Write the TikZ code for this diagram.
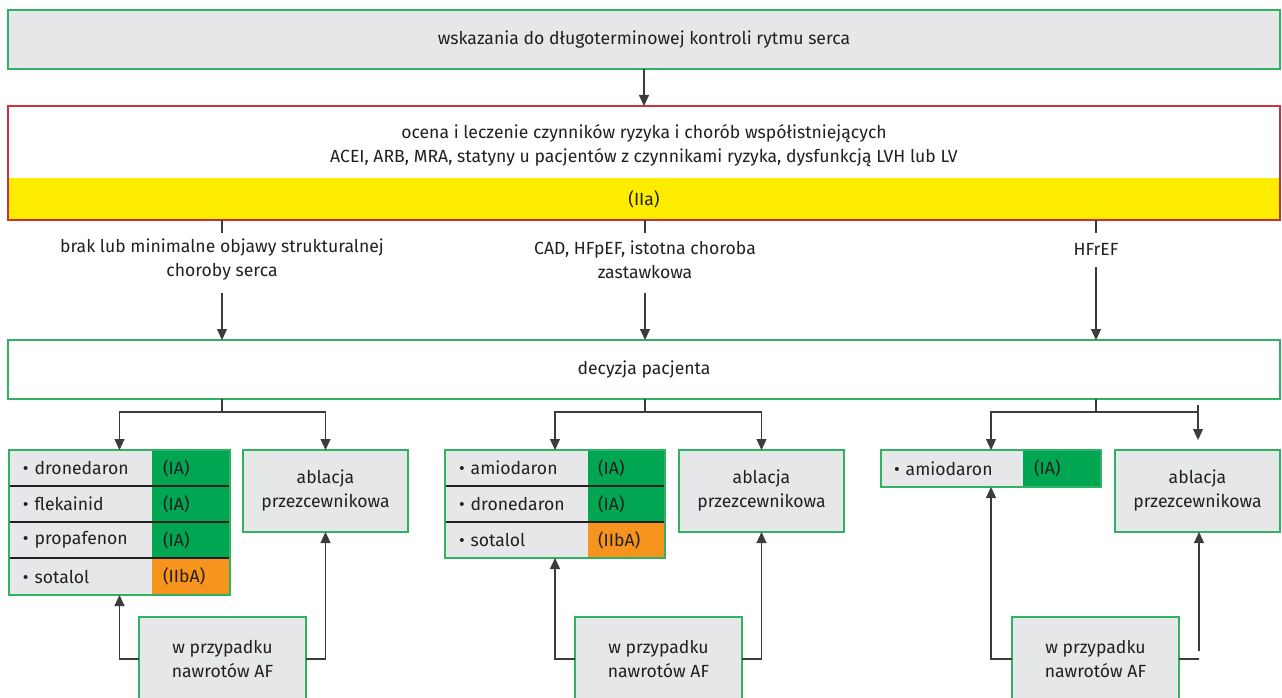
\documentclass[tikz,border=0pt]{standalone}
\usepackage{fontspec}
\setmainfont{Fira Sans}
\usetikzlibrary{arrows.meta}
\definecolor{gborder}{RGB}{47,178,98}
\definecolor{gfill}{RGB}{0,166,81}
\definecolor{ofill}{RGB}{247,148,29}
\definecolor{yfill}{RGB}{255,237,0}
\definecolor{grayfill}{RGB}{230,231,232}
\definecolor{rborder}{RGB}{200,50,60}
\definecolor{txt}{RGB}{35,31,32}
\definecolor{conn}{RGB}{60,60,62}
\tikzset{
  base/.style={inner sep=0pt, outer sep=0pt, text=txt, align=center},
  graybox/.style={base, draw=gborder, line width=1.4pt, fill=grayfill},
  whitebox/.style={base, draw=gborder, line width=1.4pt, fill=white},
  cellname/.style={base, fill=grayfill, anchor=north west, minimum height=36pt, text width=#1, align=left},
  cellgrade/.style={base, anchor=north west, minimum height=36pt, align=left},
  frame/.style={base, draw=gborder, line width=1.4pt, anchor=north west},
  lbl/.style={base, align=center},
  conline/.style={draw=conn, line width=1.1pt},
  arr/.style={conline, -{Triangle[width=10pt,length=11pt]}},
}
\begin{document}
\begin{tikzpicture}[x=1pt,y=-1pt,font=\fontsize{17.6}{24}\selectfont]
\useasboundingbox (0,0) rectangle (1282,698);

% top box
\node[graybox, anchor=north west, minimum width=1272pt, minimum height=59pt] (top) at (8,10)
  {wskazania do długoterminowej kontroli rytmu serca};

% risk box
\node[base, fill=yfill, anchor=north west, minimum width=1272pt, minimum height=42pt] (iia) at (8,178) {(IIa)};
\node[base, draw=rborder, line width=1.4pt, anchor=north west, minimum width=1272pt, minimum height=114pt] (risk) at (8,106) {};
\node[lbl] (risktxt) at (644,146) {ocena i leczenie czynników ryzyka i chorób współistniejących\\
  ACEI, ARB, MRA, statyny u pacjentów z czynnikami ryzyka, dysfunkcją LVH lub LV};
\draw[arr] (top.south) -- (risk.north);

% labels
\node[lbl] (lab1) at (222,260) {brak lub minimalne objawy strukturalnej\\choroby serca};
\node[lbl] (lab2) at (645,260) {CAD, HFpEF, istotna choroba\\zastawkowa};
\node[lbl] (lab3) at (1096,249) {HFrEF};
\coordinate (t1) at (222,233);
\coordinate (t2) at (645,233);
\coordinate (t3) at (1096,233);
\draw[conline] (risk.south -| t1) -- (t1);
\draw[conline] (risk.south -| t2) -- (t2);
\draw[conline] (risk.south -| t3) -- (t3);

% decision box
\node[whitebox, anchor=north west, minimum width=1272pt, minimum height=59pt] (dec) at (8,340) {decyzja pacjenta};
\coordinate (s1) at (222,293);
\coordinate (s2) at (645,293);
\coordinate (s3) at (1096,267);
\draw[arr] (s1) -- (dec.north -| s1);
\draw[arr] (s2) -- (dec.north -| s2);
\draw[arr] (s3) -- (dec.north -| s3);

% ---------- left group ----------
\node[cellname=143pt] (n11) at (9,450) {\hspace{14pt}•\hspace{6pt}dronedaron};
\node[cellname=143pt] (n12) at (9,486) {\hspace{14pt}•\hspace{6pt}flekainid};
\node[cellname=143pt] (n13) at (9,522) {\hspace{14pt}•\hspace{6pt}propafenon};
\node[cellname=143pt, minimum height=37pt] (n14) at (9,558) {\hspace{14pt}•\hspace{6pt}sotalol};
\node[cellgrade, fill=gfill, minimum width=78pt, text width=78pt] (g11) at (152,450) {\hspace{11pt}(IA)};
\node[cellgrade, fill=gfill, minimum width=78pt, text width=78pt] (g12) at (152,486) {\hspace{11pt}(IA)};
\node[cellgrade, fill=gfill, minimum width=78pt, text width=78pt] (g13) at (152,522) {\hspace{11pt}(IA)};
\node[cellgrade, fill=ofill, minimum width=78pt, text width=78pt, minimum height=37pt] (g14) at (152,558) {\hspace{11pt}(IIbA)};
\draw[draw=txt, line width=1.1pt] (n12.north west) -- (g12.north east);
\draw[draw=txt, line width=1.1pt] (n13.north west) -- (g13.north east);
\draw[draw=txt, line width=1.1pt] (n14.north west) -- (g14.north east);
\node[frame, minimum width=221pt, minimum height=145pt] (L1) at (9,450) {};
\node[graybox, anchor=north west, minimum width=165pt, minimum height=82pt] (A1) at (243,450) {ablacja\\przezcewnikowa};
\node[graybox, anchor=north west, minimum width=167pt, minimum height=84pt] (B1) at (139,617) {w przypadku\\nawrotów AF};
\coordinate (j1) at (222,412);
\draw[conline] (dec.south -| j1) -- (j1);
\draw[arr] (j1) -| (L1.north);
\draw[arr] (j1) -| (A1.north);
\draw[arr] (B1.west) -| (L1.south);
\draw[arr] (B1.east) -| (A1.south);

% ---------- middle group ----------
\node[cellname=143pt] (n21) at (445,450) {\hspace{14pt}•\hspace{6pt}amiodaron};
\node[cellname=143pt] (n22) at (445,486) {\hspace{14pt}•\hspace{6pt}dronedaron};
\node[cellname=143pt] (n23) at (445,522) {\hspace{14pt}•\hspace{6pt}sotalol};
\node[cellgrade, fill=gfill, minimum width=77pt, text width=77pt] (g21) at (588,450) {\hspace{10pt}(IA)};
\node[cellgrade, fill=gfill, minimum width=77pt, text width=77pt] (g22) at (588,486) {\hspace{10pt}(IA)};
\node[cellgrade, fill=ofill, minimum width=77pt, text width=77pt] (g23) at (588,522) {\hspace{10pt}(IIbA)};
\draw[draw=txt, line width=1.1pt] (n22.north west) -- (g22.north east);
\draw[draw=txt, line width=1.1pt] (n23.north west) -- (g23.north east);
\node[frame, minimum width=220pt, minimum height=108pt] (L2) at (445,450) {};
\node[graybox, anchor=north west, minimum width=165pt, minimum height=82pt] (A2) at (679,450) {ablacja\\przezcewnikowa};
\node[graybox, anchor=north west, minimum width=167pt, minimum height=84pt] (B2) at (575,617) {w przypadku\\nawrotów AF};
\coordinate (j2) at (645,412);
\draw[conline] (dec.south -| j2) -- (j2);
\draw[arr] (j2) -| (L2.north);
\draw[arr] (j2) -| (A2.north);
\draw[arr] (B2.west) -| (L2.south);
\draw[arr] (B2.east) -| (A2.south);

% ---------- right group ----------
\node[cellname=142pt, minimum height=37pt] (n31) at (881,450) {\hspace{13pt}•\hspace{6pt}amiodaron};
\node[cellgrade, fill=gfill, minimum width=78pt, text width=78pt, minimum height=37pt] (g31) at (1023,450) {\hspace{11pt}(IA)};
\node[frame, minimum width=220pt, minimum height=37pt] (L3) at (881,450) {};
\node[graybox, anchor=north west, minimum width=165pt, minimum height=82pt] (A3) at (1115,450) {ablacja\\przezcewnikowa};
\node[graybox, anchor=north west, minimum width=167pt, minimum height=84pt] (B3) at (1012,617) {w przypadku\\nawrotów AF};
\coordinate (j3) at (1096,412);
\coordinate (r3top) at (1198,405);
\coordinate (r3tip) at (1198,440);
\coordinate (r3bot) at (1199,651);
\coordinate (r3end) at (1199,659);
\draw[conline] (dec.south -| j3) -- (j3);
\draw[arr] (j3) -| (L3.north);
\draw[conline] (j3) -- (j3 -| r3top);
\draw[arr] (r3top) -- (r3tip);
\draw[arr] (B3.west) -| (L3.south);
\draw[conline] (B3.east) -- (r3end);
\draw[arr] (r3bot) -- (A3.south -| r3bot);
\end{tikzpicture}
\end{document}
